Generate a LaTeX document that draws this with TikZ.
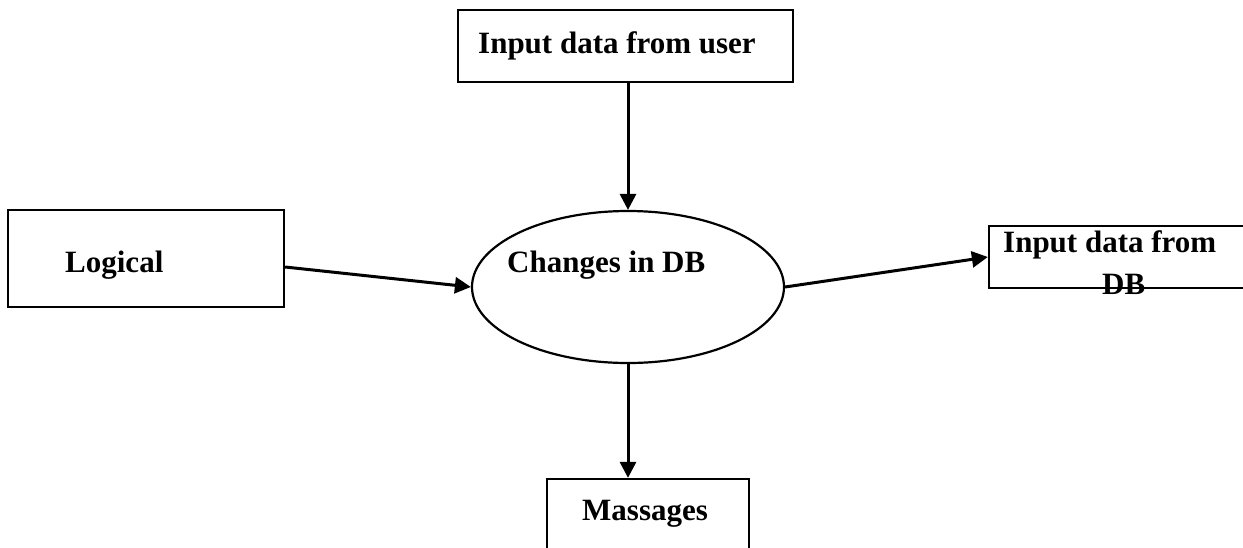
\documentclass[tikz,border=0pt]{standalone}
\usepackage{fontspec}
\setmainfont{Liberation Serif}
\usetikzlibrary{shapes.geometric,arrows.meta}
\begin{document}
\begin{tikzpicture}[x=1pt,y=-1pt,
  boxshape/.style={draw,line width=2.3pt,rectangle,inner sep=0pt},
  procshape/.style={draw,line width=2.2pt,ellipse,inner sep=0pt,minimum width=312pt,minimum height=152pt},
  lbl/.style={anchor=base west,inner sep=0pt,font=\fontsize{31}{40}\selectfont\bfseries},
  flow/.style={line width=3pt,-{Triangle[length=16pt,width=16pt]}}]
\useasboundingbox (0,0) rectangle (1243,547);
\clip (0,0) rectangle (1243,547);
\fill[white] (0,0) rectangle (1243,547);

% boxes and the central process
\node[boxshape,minimum width=335pt,minimum height=72pt] (user) at (625.5,46) {};
\node[boxshape,minimum width=276pt,minimum height=97pt] (logic) at (146,258.5) {};
\node[procshape] (proc) at (628,287) {};
\node[boxshape,minimum width=290pt,minimum height=62pt] (dbin) at (1134,257) {};
\node[boxshape,minimum width=202pt,minimum height=100pt] (msg) at (648,529) {};

% texts
\node[lbl] (tuser) at (478,53) {Input data from user};
\node[lbl] (tlogic) at (65,272) {Logical};
\node[lbl] (tproc) at (507,272) {Changes in DB};
\node[lbl] (tdb1) at (1003,252) {Input data from};
\node[lbl] (tdb2) at (1102,294) {DB};
\node[lbl] (tmsg) at (582,520) {Massages};

% data flows
\draw[flow] (user.south -| proc.north) -- (proc.north);
\draw[flow] ([yshift=-8.5pt]logic.east) -- (proc.west);
\draw[flow] (proc.east) -- (dbin.west);
\draw[flow] (proc.south) -- (proc.south |- msg.north);
\end{tikzpicture}
\end{document}
